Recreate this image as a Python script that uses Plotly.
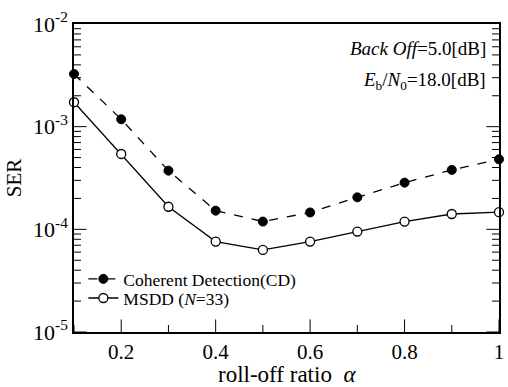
import plotly.graph_objects as go

alpha = [0.1, 0.2, 0.3, 0.4, 0.5, 0.6, 0.7, 0.8, 0.9, 1.0]
ser_cd = [3.26e-3, 1.18e-3, 3.73e-4, 1.52e-4, 1.19e-4, 1.46e-4, 2.05e-4, 2.85e-4, 3.79e-4, 4.81e-4]
ser_msdd = [1.73e-3, 5.42e-4, 1.66e-4, 7.6e-5, 6.3e-5, 7.6e-5, 9.5e-5, 1.19e-4, 1.41e-4, 1.47e-4]

x_ticks = [0.2, 0.4, 0.6, 0.8, 1.0]
x_ticktext = ["0.2", "0.4", "0.6", "0.8", "1"]
y_ticks = [1e-5, 1e-4, 1e-3, 1e-2]
y_ticktext = ["10<sup>-5</sup>", "10<sup>-4</sup>", "10<sup>-3</sup>", "10<sup>-2</sup>"]
y_minor = [m * 10 ** e for e in (-5, -4, -3) for m in range(2, 10)]
x_minor = [0.1, 0.3, 0.5, 0.7, 0.9]

FONT = "Liberation Serif"
X_RANGE = [0.1, 1.0]
Y_RANGE = [-5, -2]
Y_EDGES = [10 ** Y_RANGE[0], 10 ** Y_RANGE[1]]

fig = go.Figure()
fig.add_trace(go.Scatter(
    x=alpha, y=ser_cd, mode="lines+markers", name="Coherent Detection(CD)",
    line=dict(color="black", width=1.3, dash="dash"),
    marker=dict(symbol="circle", size=9, color="black", line=dict(color="black", width=1)),
    legend="legend", cliponaxis=False,
))
fig.add_trace(go.Scatter(
    x=alpha, y=ser_msdd, mode="lines+markers", name="MSDD (<i>N</i>=33)",
    line=dict(color="black", width=1.3),
    marker=dict(symbol="circle", size=9, color="white", line=dict(color="black", width=1.3)),
    legend="legend2", cliponaxis=False,
))

# inside tick marks on all four sides: line markers centred on the plot edges,
# half of each clipped away by the plot area
for vals, size in ((x_ticks, 18), (x_minor, 10)):
    xs = [v for v in vals for _ in Y_EDGES]
    ys = [e for _ in vals for e in Y_EDGES]
    fig.add_trace(go.Scatter(
        x=xs, y=ys, mode="markers", showlegend=False, hoverinfo="skip", cliponaxis=True,
        marker=dict(symbol="line-ns", size=size, color="black", line=dict(color="black", width=1)),
    ))
for vals, size in ((y_ticks, 18), (y_minor, 10)):
    xs = [e for _ in vals for e in X_RANGE]
    ys = [v for v in vals for _ in X_RANGE]
    fig.add_trace(go.Scatter(
        x=xs, y=ys, mode="markers", showlegend=False, hoverinfo="skip", cliponaxis=True,
        marker=dict(symbol="line-ew", size=size, color="black", line=dict(color="black", width=1)),
    ))

fig.add_annotation(x=0.975, y=0.92, xref="paper", yref="paper", xanchor="right", yanchor="middle",
                   text="<i>Back Off</i>=5.0[dB]", showarrow=False,
                   font=dict(family=FONT, size=19, color="black"))
fig.add_annotation(x=0.975, y=0.815, xref="paper", yref="paper", xanchor="right", yanchor="middle",
                   text="<i>E</i><sub>b</sub>/<i>N</i><sub>0</sub>=18.0[dB]", showarrow=False,
                   font=dict(family=FONT, size=19, color="black"))
fig.add_annotation(x=0.5, y=-0.137, xref="paper", yref="paper", xanchor="center", yanchor="middle",
                   text="roll-off ratio&nbsp;&nbsp;<i>α</i>", showarrow=False,
                   font=dict(family=FONT, size=23, color="black"))

legend_style = dict(xanchor="left", yanchor="middle", bgcolor="rgba(0,0,0,0)",
                    font=dict(family=FONT, size=17.5, color="black"), itemwidth=30)

fig.update_layout(
    width=508, height=387,
    margin=dict(l=74, r=4, t=24, b=55),
    paper_bgcolor="white", plot_bgcolor="white",
    font=dict(family=FONT, color="black"),
    showlegend=True,
    legend=dict(x=0.022, y=0.172, **legend_style),
    legend2=dict(x=0.022, y=0.110, **legend_style),
    xaxis=dict(
        range=X_RANGE, tickmode="array", tickvals=x_ticks, ticktext=x_ticktext,
        ticks="", showgrid=False, zeroline=False,
        showline=True, linecolor="black", linewidth=1.5, mirror=True,
        tickfont=dict(family=FONT, size=21, color="black"),
    ),
    yaxis=dict(
        type="log", range=Y_RANGE, tickmode="array", tickvals=y_ticks, ticktext=y_ticktext,
        ticks="", showgrid=False, zeroline=False,
        showline=True, linecolor="black", linewidth=1.5, mirror=True,
        tickfont=dict(family=FONT, size=22, color="black"),
        title=dict(text="SER", font=dict(family=FONT, size=21, color="black"), standoff=6),
    ),
)

fig.write_html("out.html")
